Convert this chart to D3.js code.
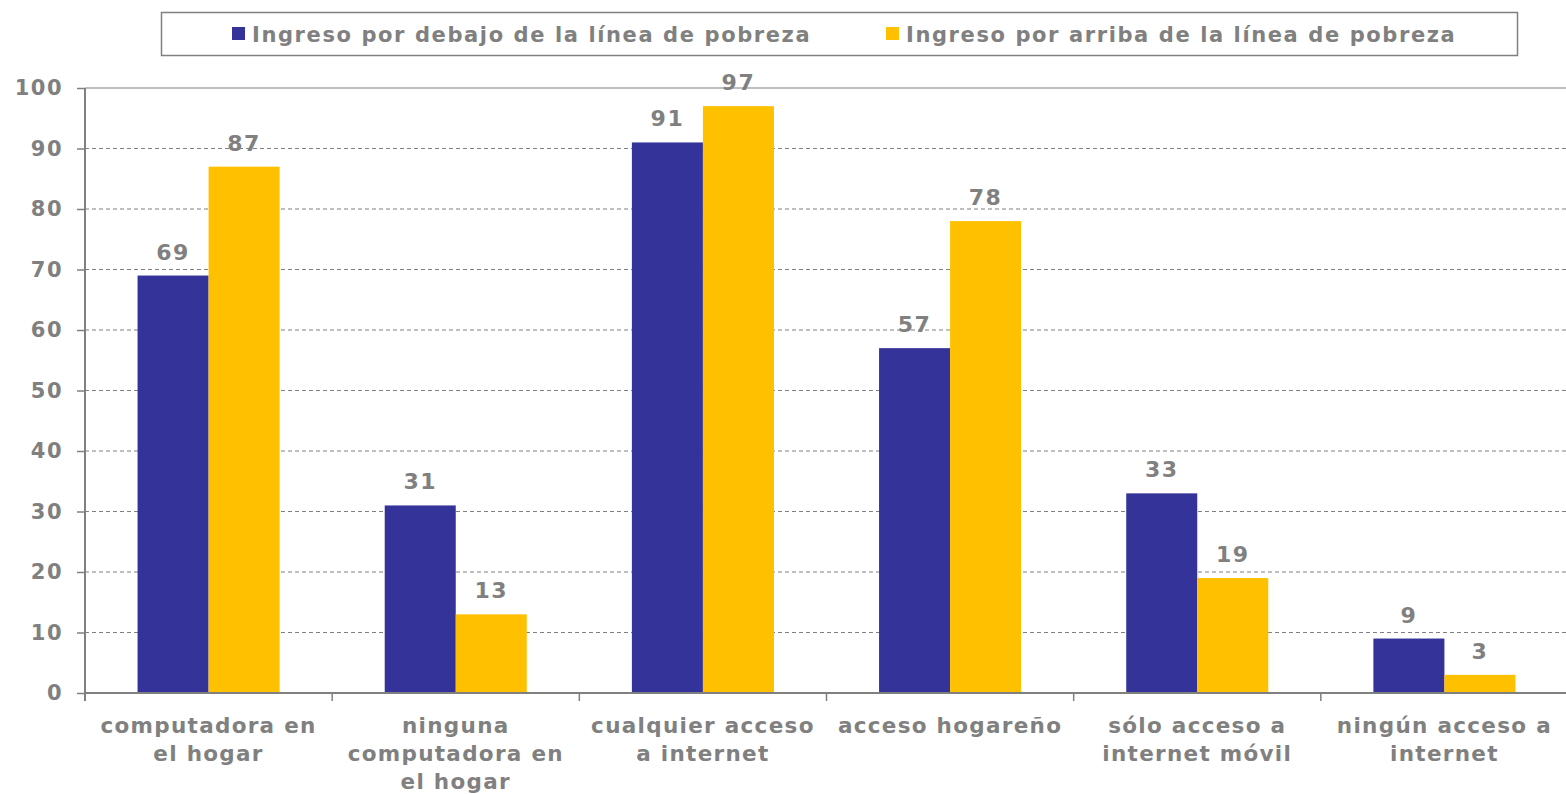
<!DOCTYPE html>
<html>
<head>
<meta charset="utf-8">
<script src="https://cdn.jsdelivr.net/npm/d3@7/dist/d3.min.js"></script>
<style>
  html, body { margin: 0; padding: 0; background: #fff; }
  svg text { font-family: "DejaVu Sans", Verdana, sans-serif; font-weight: bold; fill: #808080; }
</style>
</head>
<body>
<svg id="chart" width="1566" height="794"></svg>
<script>
// Access to computers and internet by household income level (%)
const categories = [
  ["computadora en", "el hogar"],
  ["ninguna", "computadora en", "el hogar"],
  ["cualquier acceso", "a internet"],
  ["acceso hogareño"],
  ["sólo acceso a", "internet móvil"],
  ["ningún acceso a", "internet"]
];
const seriesNames = [
  "Ingreso por debajo de la línea de pobreza",
  "Ingreso por arriba de la línea de pobreza"
];
const belowPoverty = [69, 31, 91, 57, 33, 9];
const abovePoverty = [87, 13, 97, 78, 19, 3];
const yTicks = [0, 10, 20, 30, 40, 50, 60, 70, 80, 90, 100];
const colors = ["#333399", "#FFC000"];

const svg = d3.select("#chart");
const margin = { left: 85, right: 0, top: 88, bottom: 101 };
const W = 1566, H = 794;
const plotW = 1483;

const x0 = d3.scaleBand()
  .domain(d3.range(categories.length))
  .range([margin.left, margin.left + plotW])
  .paddingInner(0)
  .paddingOuter(0);

const x1 = d3.scaleBand()
  .domain([0, 1])
  .range([0, x0.bandwidth()])
  .paddingOuter(0.74)
  .paddingInner(0);

const y = d3.scaleLinear().domain([0, 100]).range([H - margin.bottom, margin.top]);

// Gridlines
svg.append("g")
  .selectAll("line")
  .data(yTicks.filter(t => t > 0))
  .join("line")
  .attr("x1", margin.left)
  .attr("x2", W)
  .attr("y1", d => y(d))
  .attr("y2", d => y(d))
  .attr("stroke", "#808080")
  .attr("stroke-width", 1.2)
  .attr("stroke-dasharray", d => d === 100 ? null : "4,3");

// Bars
const series = [belowPoverty, abovePoverty];
series.forEach((vals, si) => {
  svg.append("g")
    .selectAll("rect")
    .data(vals)
    .join("rect")
    .attr("x", (d, i) => x0(i) + x1(si))
    .attr("y", d => y(d))
    .attr("width", x1.bandwidth())
    .attr("height", d => y(0) - y(d))
    .attr("fill", colors[si]);

  svg.append("g")
    .selectAll("text")
    .data(vals)
    .join("text")
    .attr("x", (d, i) => x0(i) + x1(si) + x1.bandwidth() / 2)
    .attr("y", d => y(d) - 16)
    .attr("text-anchor", "middle")
    .style("font-size", "22px")
    .style("letter-spacing", "1.5px")
    .text(d => d);
});

// Y axis
const yAxis = d3.axisLeft(y).tickValues(yTicks).tickSize(8).tickPadding(14);
const gy = svg.append("g")
  .attr("transform", `translate(${margin.left},0)`)
  .call(yAxis);
gy.select(".domain").attr("stroke", "#808080").attr("stroke-width", 2)
  .attr("d", `M0,${y(100)}V${y(0) + 8}`);
gy.selectAll(".tick line").attr("stroke", "#808080").attr("stroke-width", 1.5);
gy.selectAll(".tick text")
  .style("font-size", "21px")
  .style("letter-spacing", "1.5px")
  .attr("fill", "#808080")
  .style("font-family", "'DejaVu Sans', Verdana, sans-serif")
  .style("font-weight", "bold");

// X axis baseline and category separators
const xAxis = d3.axisBottom(x0).tickValues([]).tickSizeOuter(0);
const gx = svg.append("g")
  .attr("transform", `translate(0,${y(0)})`)
  .call(xAxis);
gx.select(".domain").attr("stroke", "#808080").attr("stroke-width", 2)
  .attr("d", `M${margin.left},0H${W}`);
gx.selectAll("line.sep")
  .data(d3.range(1, categories.length))
  .join("line")
  .attr("class", "sep")
  .attr("x1", i => x0(i))
  .attr("x2", i => x0(i))
  .attr("y1", 0)
  .attr("y2", 8)
  .attr("stroke", "#808080")
  .attr("stroke-width", 1.5);

// Category labels
const catG = svg.append("g");
categories.forEach((lines, i) => {
  const t = catG.append("text")
    .attr("x", x0(i) + x0.bandwidth() / 2)
    .attr("y", y(0) + 40)
    .attr("text-anchor", "middle")
    .style("font-size", "21.5px")
    .style("letter-spacing", "1.3px");
  lines.forEach((ln, j) => {
    t.append("tspan")
      .attr("x", x0(i) + x0.bandwidth() / 2)
      .attr("dy", j === 0 ? 0 : 28)
      .text(ln);
  });
});

// Legend
const lg = svg.append("g");
lg.append("rect")
  .attr("x", 161.5).attr("y", 12.5)
  .attr("width", 1356).attr("height", 43)
  .attr("fill", "#fff")
  .attr("stroke", "#808080")
  .attr("stroke-width", 1.5);
const legendX = [232, 886];
seriesNames.forEach((name, i) => {
  lg.append("rect")
    .attr("x", legendX[i]).attr("y", 27)
    .attr("width", 13).attr("height", 13)
    .attr("fill", colors[i]);
  lg.append("text")
    .attr("x", legendX[i] + 20)
    .attr("y", 42)
    .style("font-size", "21px")
    .style("letter-spacing", "1.6px")
    .text(name);
});
</script>
</body>
</html>
